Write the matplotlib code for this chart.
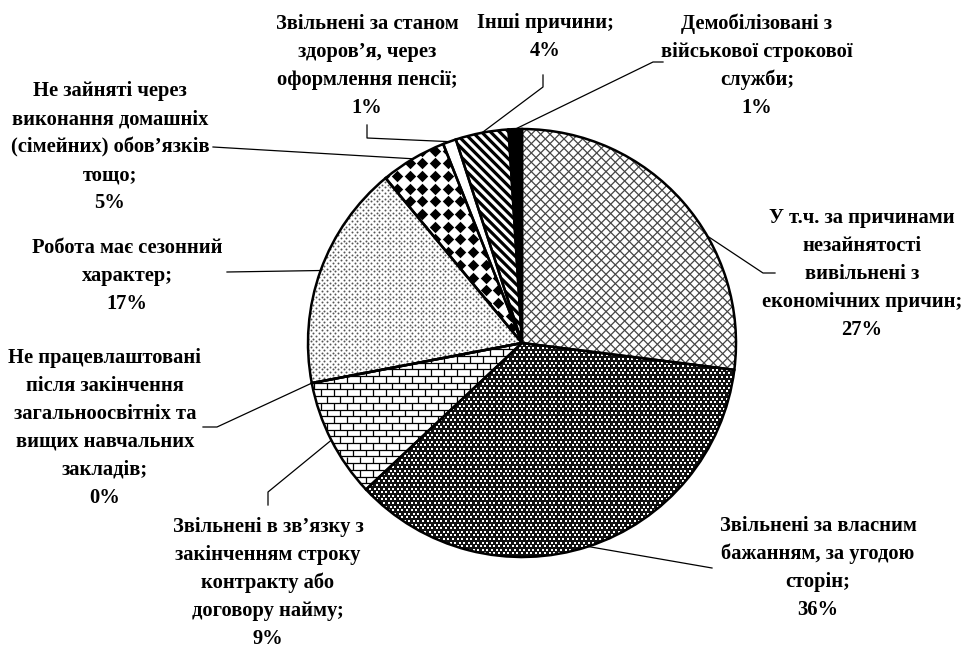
import numpy as np
import matplotlib
matplotlib.use('Agg')
import matplotlib.pyplot as plt
from matplotlib.collections import LineCollection

# categories (clockwise from 12 o'clock) and their shares, %
categories = [
    'У т.ч. за причинами\nнезайнятості\nвивільнені з\nекономічних причин',
    'Звільнені за власним\nбажанням, за угодою\nсторін',
    'Звільнені в зв’язку з\nзакінченням строку\nконтракту або\nдоговору найму',
    'Не працевлаштовані\nпісля закінчення\nзагальноосвітніх та\nвищих навчальних\nзакладів',
    'Робота має сезонний\nхарактер',
    'Не зайняті через\nвиконання домашніх\n(сімейних) обов’язків\nтощо',
    'Звільнені за станом\nздоров’я, через\nоформлення пенсії',
    'Інші причини',
    'Демобілізовані з\nвійськової строкової\nслужби',
]
values = [27, 36, 9, 0, 17, 5, 1, 4, 1]

W, H = 979, 648
fig = plt.figure(figsize=(W / 100, H / 100), dpi=100)
ax = fig.add_axes([0, 0, 1, 1])

cx, cy, R = 522, H - 343, 214

wedges, _ = ax.pie(values, startangle=90, counterclock=False,
                   center=(cx, cy), radius=R,
                   wedgeprops=dict(linewidth=0, edgecolor='none', zorder=1))
fills = ['white', '#111111', 'white', 'white', 'white', 'white', 'white', 'white', 'black']
for w, fc in zip(wedges, fills):
    w.set_facecolor(fc)


def parallel(angle, step):
    a = np.radians(angle)
    d = np.array([np.cos(a), np.sin(a)])
    n = np.array([-np.sin(a), np.cos(a)])
    segs = []
    for off in np.arange(-1.5 * R, 1.5 * R, step):
        p = np.array([cx, cy]) + n * off
        segs.append([p - d * 2 * R, p + d * 2 * R])
    return segs


def add_lines(w, segs, color, lw):
    lc = LineCollection(segs, colors=color, linewidths=lw, zorder=2)
    lc.set_clip_path(w)
    ax.add_collection(lc)


def add_grid(w, sx, sy, stagger, **kw):
    pts = []
    for j, y in enumerate(np.arange(cy - R, cy + R, sy)):
        shift = (sx / 2) if (stagger and j % 2) else 0
        for x in np.arange(cx - R - sx, cx + R + sx, sx):
            pts.append((x + shift, y))
    pts = np.array(pts)
    sc = ax.scatter(pts[:, 0], pts[:, 1], zorder=2, linewidths=0, **kw)
    sc.set_clip_path(w)


# crosshatch
add_lines(wedges[0], parallel(45, 6.6) + parallel(-45, 6.6), '#444444', 0.9)
# dark weave
add_grid(wedges[1], 4.6, 3.6, True, marker='s', s=1.3, color='white')
# bricks
rows = np.arange(cy - R, cy + R, 6.7)
brick = [[(cx - R, y), (cx + R, y)] for y in rows]
for j, y in enumerate(rows):
    shift = 6.5 if j % 2 else 0
    for x in np.arange(cx - R - 13, cx + R + 13, 13):
        brick.append([(x + shift, y), (x + shift, y + 6.7)])
add_lines(wedges[2], brick, 'black', 0.9)
# dotted
add_grid(wedges[4], 5.5, 2.8, True, marker='o', s=2.0, color='#555555')
# diamonds
add_grid(wedges[5], 12.7, 12.7, False, marker='D', s=34, color='black')
# stripes
add_lines(wedges[7], parallel(-45, 6.4), 'black', 2.3)

# outlines
ax.pie(values, startangle=90, counterclock=False, center=(cx, cy), radius=R,
       wedgeprops=dict(fill=False, edgecolor='black', linewidth=1.8, zorder=5))

# label layout (pixel coords from top-left)
label_pos = [(862, 274), (818, 568), (268, 583), (105, 428), (127, 276),
             (110, 147), (367, 66), (545, 37), (757, 66)]
line_step = 28
leader_pts = [
    [(763, 273), (775, 273)],
    [(712, 568)],
    [(268, 492), (268, 505)],
    [(217, 427), (203, 427)],
    [(227, 272)],
    [(213, 147)],
    [(367, 138), (367, 125)],
    [(543, 87), (543, 75)],
    [(653, 62), (663, 62)],
]
anchor_angle = {0: 30}

for i, (w, cat, v) in enumerate(zip(wedges, categories, values)):
    ang = anchor_angle.get(i, (w.theta1 + w.theta2) / 2)
    ax0 = cx + R * np.cos(np.radians(ang))
    ay0 = cy + R * np.sin(np.radians(ang))
    xs = [ax0] + [p[0] for p in leader_pts[i]]
    ys = [ay0] + [H - p[1] for p in leader_pts[i]]
    ax.plot(xs, ys, color='black', lw=0.9, zorder=6)
    lines = f'{cat};\n{v}%'.split('\n')
    lx, ly = label_pos[i]
    top = ly - (len(lines) - 1) / 2 * line_step
    for k, s in enumerate(lines):
        ax.text(lx, H - (top + k * line_step), s, ha='center', va='center',
                fontsize=14.8, fontweight='bold', family='Liberation Serif')

ax.set_xlim(0, W)
ax.set_ylim(0, H)
ax.set_aspect('equal')
ax.axis('off')

fig.savefig('out.png', dpi=100)
